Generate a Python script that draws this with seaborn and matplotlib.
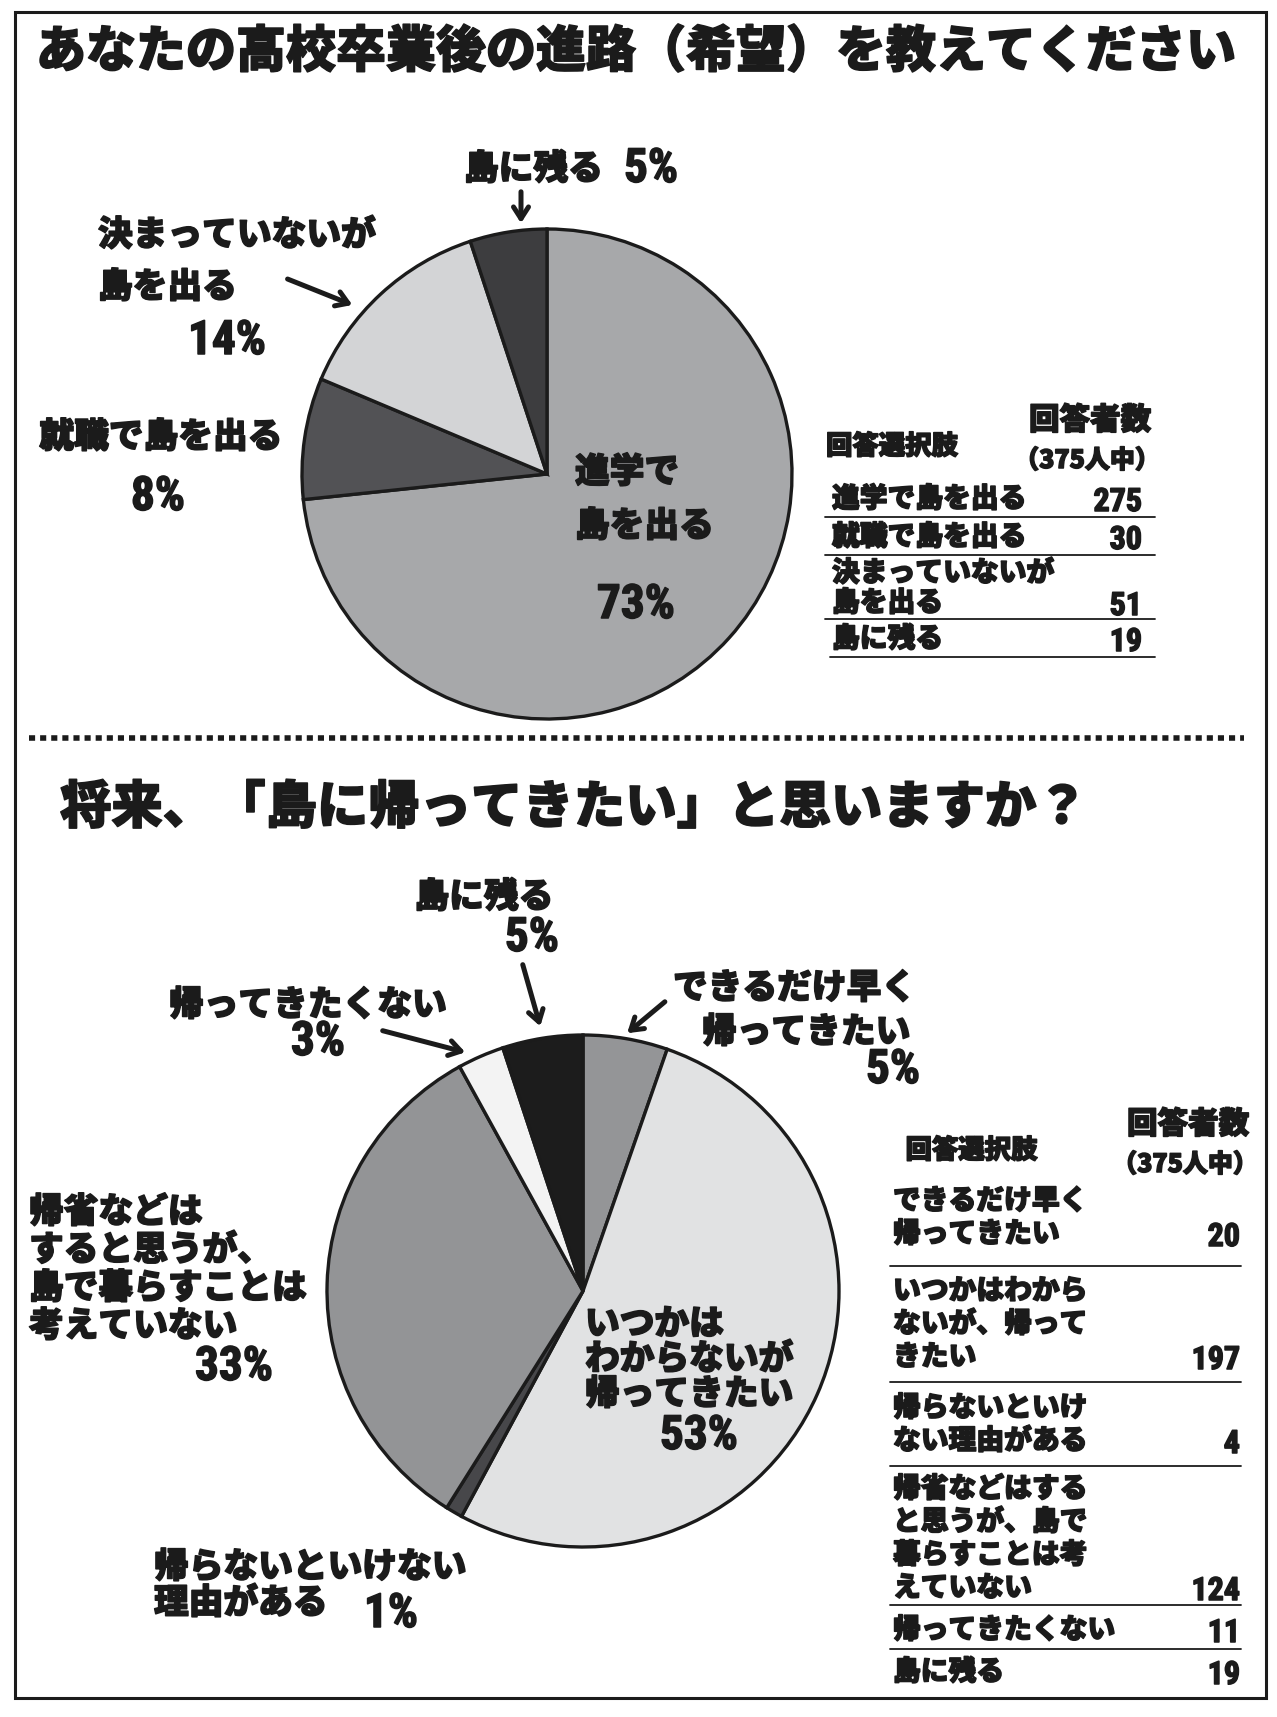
import matplotlib
matplotlib.use("Agg")
import matplotlib.pyplot as plt
import matplotlib.patheffects as pe
import seaborn as sns
from matplotlib.patches import Rectangle

sns.set_theme(style="white")
plt.rcParams['font.family'] = ['Noto Sans CJK JP', 'DejaVu Sans']

# ---- data ----
q1_title = 'あなたの高校卒業後の進路（希望）を教えてください'
q1_choices = ['進学で島を出る', '就職で島を出る', '決まっていないが\n島を出る', '島に残る']
q1_counts = [275, 30, 51, 19]
q1_colors = ['#a7a8aa', '#525255', '#d3d4d6', '#3d3d3f']

q2_title = '将来、「島に帰ってきたい」と思いますか？'
q2_choices = ['できるだけ早く\n帰ってきたい', 'いつかはわから\nないが、帰って\nきたい',
              '帰らないといけ\nない理由がある', '帰省などはする\nと思うが、島で\n暮らすことは考\nえていない',
              '帰ってきたくない', '島に残る']
q2_counts = [20, 197, 4, 124, 11, 19]
q2_colors = ['#949597', '#e1e2e3', '#47474a', '#939496', '#f3f3f3', '#1c1c1c']

total = 375
W, H = 1277, 1717
INK = '#1b1b1b'
CJK = ['Noto Sans CJK JP', 'DejaVu Sans']
NUM = ['Liberation Sans Narrow', 'Roboto Condensed', 'Noto Sans CJK JP']

fig = plt.figure(figsize=(W / 100, H / 100), dpi=100)


def pie_at(cx, cy, r, counts, colors):
    pad = 1.04
    ax = fig.add_axes([(cx - r * pad) / W, 1 - (cy + r * pad) / H, 2 * r * pad / W, 2 * r * pad / H])
    ax.pie(counts, colors=colors, startangle=90, counterclock=False,
           wedgeprops=dict(edgecolor=INK, linewidth=2.4))
    ax.set_xlim(-pad, pad)
    ax.set_ylim(-pad, pad)
    ax.axis('off')
    return ax


pie_at(547, 474, 245, q1_counts, q1_colors)
pie_at(583, 1291, 256, q2_counts, q2_colors)

# overlay in pixel coordinates
ov = fig.add_axes([0, 0, 1, 1], zorder=5)
ov.set_xlim(0, W)
ov.set_ylim(H, 0)
ov.axis('off')
ov.patch.set_alpha(0)

ov.add_patch(Rectangle((15, 12), 1251, 1686, fill=False, edgecolor=INK, linewidth=2.2))
ov.plot([29, 1244], [738, 738], color=INK, linewidth=4, linestyle=(0, (1.1, 0.9)), solid_capstyle='butt')

heavy = [pe.withStroke(linewidth=1.1, foreground=INK)]


def put(x, y, s, size, ha='left', va='center', fam=CJK):
    ov.text(x, y, s, fontsize=size, ha=ha, va=va, color=INK, family=fam, fontweight='black',
            path_effects=heavy)


def pct(v):
    return f'{round(v / total * 100)}%'


def arrow(x0, y0, x1, y1):
    ov.annotate('', xy=(x1, y1), xytext=(x0, y0),
                arrowprops=dict(arrowstyle='->,head_length=0.7,head_width=0.45', color=INK, lw=3.6))


put(636, 52, q1_title, 36, ha='center')
put(60, 808, q2_title, 37)

# ---- top pie labels ----
put(464, 169, '島に残る', 25)
put(624, 169, pct(q1_counts[3]), 34, fam=NUM)
arrow(521, 189, 521, 226)
put(98, 235, '決まっていないが', 25)
put(98, 287, '島を出る', 25)
put(227, 341, pct(q1_counts[2]), 34, ha='center', fam=NUM)
arrow(285, 278, 355, 306)
put(161, 437, '就職で島を出る', 25, ha='center')
put(158, 497, pct(q1_counts[1]), 34, ha='center', fam=NUM)
put(575, 472, '進学で', 25)
put(575, 526, '島を出る', 25)
put(636, 605, pct(q1_counts[0]), 34, ha='center', fam=NUM)

# ---- bottom pie labels ----
put(484, 897, '島に残る', 25, ha='center')
put(532, 938, pct(q2_counts[5]), 34, ha='center', fam=NUM)
arrow(522, 962, 541, 1029)
put(447, 1005, '帰ってきたくない', 25, ha='right')
put(318, 1042, pct(q2_counts[4]), 34, ha='center', fam=NUM)
arrow(380, 1030, 468, 1053)
put(673, 988, 'できるだけ早く', 25)
put(702, 1032, '帰ってきたい', 25)
put(866, 1070, pct(q2_counts[0]), 34, fam=NUM)
arrow(667, 1000, 625, 1035)
for i, s in enumerate(['帰省などは', 'すると思うが、', '島で暮らすことは', '考えていない']):
    put(29, 1212 + i * 38, s, 25)
put(234, 1367, pct(q2_counts[3]), 34, ha='center', fam=NUM)
for i, s in enumerate(['いつかは', 'わからないが', '帰ってきたい']):
    put(585, 1324 + i * 35, s, 25)
put(699, 1436, pct(q2_counts[1]), 34, ha='center', fam=NUM)
put(154, 1567, '帰らないといけない', 25)
put(154, 1603, '理由がある', 25)
put(391, 1614, pct(q2_counts[2]), 34, ha='center', fam=NUM)


# ---- tables ----
def table(choices, counts, x1, tx, nx, head_y, row_starts, dy, lines_y, line_x0):
    put((tx + nx) / 2 - 95, head_y + 26, '回答選択肢', 19, ha='center')
    put(nx - 52, head_y, '回答者数', 22, ha='center')
    put(nx - 55, head_y + 40, '（375人中）', 18, ha='center')
    for label, n, y0 in zip(choices, counts, row_starts):
        parts = label.split('\n')
        for i, s in enumerate(parts):
            put(tx, y0 + i * dy, s, 20)
        put(nx, y0 + (len(parts) - 1) * dy + 3, str(n), 23, ha='right', fam=NUM)
    for k, y in enumerate(lines_y):
        ov.plot([line_x0[k], x1], [y, y], color=INK, linewidth=1.3)


table(q1_choices, q1_counts, 1155, 832, 1142, 420,
      [499, 537, 573, 639], 30, [517, 555, 619, 657], [825, 825, 825, 830])
table(q2_choices, q2_counts, 1241, 893, 1240, 1124,
      [1201, 1291, 1408, 1489, 1630, 1672], 33, [1266, 1382, 1466, 1605, 1649], [890] * 5)

fig.savefig('out.png', dpi=100)
